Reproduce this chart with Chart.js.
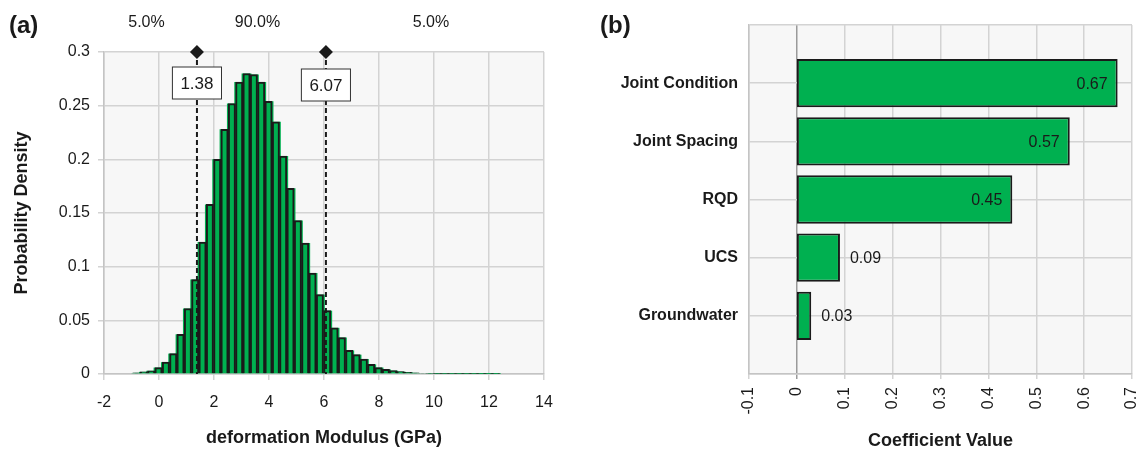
<!DOCTYPE html>
<html>
<head>
<meta charset="utf-8">
<script src="https://cdn.jsdelivr.net/npm/chart.js@4.4.0/dist/chart.umd.min.js"></script>
<style>
  html, body { margin: 0; padding: 0; background: #fff; }
  #wrap { position: relative; width: 1142px; height: 454px; }
  .panel { position: absolute; top: 0; height: 454px; }
  #panelA { left: 0; width: 560px; }
  #panelB { left: 560px; width: 582px; }
</style>
</head>
<body>
<div id="wrap">
  <div class="panel" id="panelA"><canvas id="chartA"></canvas></div>
  <div class="panel" id="panelB"><canvas id="chartB"></canvas></div>
</div>
<script>
// (a) histogram of deformation modulus
const binCenters = [
  -0.817, -0.550, -0.283, -0.017, 0.250, 0.517, 0.783, 1.050, 1.317, 1.583,
  1.850, 2.117, 2.383, 2.650, 2.917, 3.183, 3.450, 3.717, 3.983, 4.250,
  4.517, 4.783, 5.050, 5.317, 5.583, 5.850, 6.117, 6.383, 6.650, 6.917,
  7.183, 7.450, 7.717, 7.983, 8.250, 8.517, 8.783, 9.050, 9.317, 9.583,
  9.850, 10.117, 10.383, 10.650, 10.917, 11.183, 11.450, 11.717, 11.983, 12.250
];
const density = [
  0.001, 0.002, 0.003, 0.006, 0.011, 0.019, 0.037, 0.061, 0.088, 0.123,
  0.158, 0.200, 0.228, 0.252, 0.272, 0.280, 0.279, 0.272, 0.254, 0.235,
  0.203, 0.173, 0.143, 0.122, 0.094, 0.074, 0.059, 0.043, 0.034, 0.022,
  0.018, 0.014, 0.009, 0.006, 0.0043, 0.0031, 0.0022, 0.0016, 0.001, 0.0007,
  0.0005, 0.0004, 0.0003, 0.0003, 0.0002, 0.0002, 0.0002, 0.0001, 0.0001, 0.0001
];
const markerValues = [1.38, 6.07];
const percentLabels = ['5.0%', '90.0%', '5.0%'];

// (b) coefficients
const factors = ['Joint Condition', 'Joint Spacing', 'RQD', 'UCS', 'Groundwater'];
const coefficients = [0.67, 0.57, 0.45, 0.09, 0.03];

const FONT = '"Liberation Sans", Arial, sans-serif';
const GREEN = '#00b050';
const INK = '#1a1a1a';
const GRID = '#d3d3d3';

Chart.defaults.font.family = FONT;
Chart.defaults.color = INK;
Chart.defaults.animation = false;

// plain number labels: 0.3 not 0.30, 0 not -0.0
const plainTick = v => String(Math.round(v * 100) / 100 + 0);

const plotBg = {
  id: 'plotBg',
  beforeDraw(chart) {
    const a = chart.chartArea, ctx = chart.ctx;
    ctx.save();
    ctx.fillStyle = '#f7f7f7';
    ctx.fillRect(a.left, a.top, a.right - a.left, a.bottom - a.top);
    ctx.restore();
  }
};

function panelLetter(ctx, text, x, y) {
  ctx.save();
  ctx.font = 'bold 24px ' + FONT;
  ctx.fillStyle = INK;
  ctx.textBaseline = 'middle';
  ctx.fillText(text, x, y);
  ctx.restore();
}

const histMarks = {
  id: 'histMarks',
  afterDatasetsDraw(chart) {
    const ctx = chart.ctx, a = chart.chartArea, xs = chart.scales.x;
    const px = markerValues.map(v => xs.getPixelForValue(v));
    ctx.save();
    px.forEach((p, i) => {
      ctx.strokeStyle = INK;
      ctx.lineWidth = 2;
      ctx.setLineDash([5, 3]);
      ctx.beginPath();
      ctx.moveTo(p, a.top);
      ctx.lineTo(p, a.bottom);
      ctx.stroke();
      ctx.setLineDash([]);
      ctx.fillStyle = INK;
      ctx.beginPath();
      ctx.moveTo(p, a.top - 7);
      ctx.lineTo(p + 7, a.top);
      ctx.lineTo(p, a.top + 7);
      ctx.lineTo(p - 7, a.top);
      ctx.closePath();
      ctx.fill();
      const txt = markerValues[i].toFixed(2);
      ctx.font = '17px ' + FONT;
      const w = ctx.measureText(txt).width + 16;
      const top = a.top + 15 + i * 2;
      ctx.fillStyle = '#fff';
      ctx.fillRect(p - w / 2, top, w, 32);
      ctx.strokeStyle = '#333';
      ctx.lineWidth = 1;
      ctx.strokeRect(p - w / 2, top, w, 32);
      ctx.fillStyle = INK;
      ctx.textAlign = 'center';
      ctx.textBaseline = 'middle';
      ctx.fillText(txt, p, top + 17);
    });
    const edges = [a.left, px[0], px[1], a.right];
    ctx.font = '16px ' + FONT;
    ctx.fillStyle = INK;
    ctx.textAlign = 'center';
    ctx.textBaseline = 'middle';
    percentLabels.forEach((t, i) => {
      ctx.fillText(t, (edges[i] + edges[i + 1]) / 2 - 4, 23);
    });
    ctx.restore();
    panelLetter(ctx, '(a)', 9, 26);
  }
};

const histPoints = binCenters.map((x, i) => ({ x: x, y: density[i] }));

new Chart(document.getElementById('chartA'), {
  type: 'bar',
  data: {
    datasets: [{
      data: histPoints,
      backgroundColor: GREEN,
      borderColor: INK,
      borderWidth: 2,
      barPercentage: 1,
      categoryPercentage: 1,
      grouped: false
    }, {
      data: histPoints,
      backgroundColor: GREEN,
      borderWidth: 0,
      barPercentage: 1.35,
      categoryPercentage: 1,
      grouped: false
    }]
  },
  options: {
    responsive: true,
    maintainAspectRatio: false,
    layout: { padding: { top: 52, right: 16, left: 0, bottom: 0 } },
    plugins: { legend: { display: false }, tooltip: { enabled: false } },
    scales: {
      x: {
        type: 'linear',
        min: -2, max: 14,
        offset: false,
        ticks: { stepSize: 2, padding: 13, font: { size: 16 }, color: INK, callback: plainTick },
        grid: { color: GRID, lineWidth: 1.5, offset: false, tickLength: 6 },
        border: { color: '#c4c4c4', width: 1.5 },
        title: { display: true, text: 'deformation Modulus (GPa)', font: { size: 18, weight: 'bold' }, padding: { top: 0, bottom: 5 } },
        afterFit(s) { s.height = 80; s.paddingLeft = 0; s.paddingRight = 0; }
      },
      y: {
        min: 0, max: 0.3,
        ticks: { stepSize: 0.05, padding: 8, font: { size: 16 }, color: INK, callback: plainTick },
        grid: { color: GRID, lineWidth: 1.5, tickLength: 6 },
        border: { color: '#c4c4c4', width: 1.5 },
        title: { display: true, text: 'Probability Density', font: { size: 18, weight: 'bold' }, padding: { top: 11, bottom: 0 } },
        afterFit(s) { s.width = 104; s.paddingTop = 0; s.paddingBottom = 0; }
      }
    }
  },
  plugins: [plotBg, histMarks]
});

const barValues = {
  id: 'barValues',
  afterDatasetsDraw(chart) {
    const ctx = chart.ctx;
    const meta = chart.getDatasetMeta(0);
    ctx.save();
    ctx.font = '16px ' + FONT;
    ctx.fillStyle = INK;
    ctx.textBaseline = 'middle';
    meta.data.forEach((el, i) => {
      const v = chart.data.datasets[0].data[i];
      if (v == null) return;
      const txt = v.toFixed(2);
      if (v > 0.3) {
        ctx.textAlign = 'right';
        ctx.fillText(txt, el.x - 10, el.y + 1);
      } else {
        ctx.textAlign = 'left';
        ctx.fillText(txt, el.x + 10, el.y + 1);
      }
    });
    ctx.restore();
    panelLetter(ctx, '(b)', 40, 26);
  }
};

new Chart(document.getElementById('chartB'), {
  type: 'bar',
  data: {
    labels: [''].concat(factors, ['']),
    datasets: [{
      data: [null].concat(coefficients, [null]),
      backgroundColor: GREEN,
      borderColor: INK,
      borderWidth: 2,
      borderSkipped: false,
      barPercentage: 0.83,
      categoryPercentage: 1
    }]
  },
  options: {
    indexAxis: 'y',
    responsive: true,
    maintainAspectRatio: false,
    layout: { padding: { top: 25, right: 10, left: 0, bottom: 0 } },
    plugins: { legend: { display: false }, tooltip: { enabled: false } },
    scales: {
      x: {
        min: -0.1, max: 0.7,
        ticks: { stepSize: 0.1, minRotation: 90, maxRotation: 90, padding: 8, font: { size: 16 }, color: INK, callback: plainTick },
        grid: {
          color: ctx => (ctx.tick && Math.abs(ctx.tick.value) < 1e-9 ? '#9a9a9a' : GRID),
          lineWidth: 1.5,
          tickLength: 5
        },
        border: { color: '#c4c4c4', width: 1.5 },
        title: { display: true, text: 'Coefficient Value', font: { size: 18, weight: 'bold' }, padding: { top: 0, bottom: 2 } },
        afterFit(s) { s.height = 80; s.paddingLeft = 0; s.paddingRight = 0; }
      },
      y: {
        offset: false,
        ticks: { padding: 11, font: { size: 16, weight: 'bold' }, color: INK },
        grid: { color: GRID, lineWidth: 1.5, offset: false, drawTicks: false },
        border: { color: '#c4c4c4', width: 1.5 },
        afterFit(s) { s.width = 189; s.paddingTop = 0; s.paddingBottom = 0; }
      }
    }
  },
  plugins: [plotBg, barValues]
});
</script>
</body>
</html>
